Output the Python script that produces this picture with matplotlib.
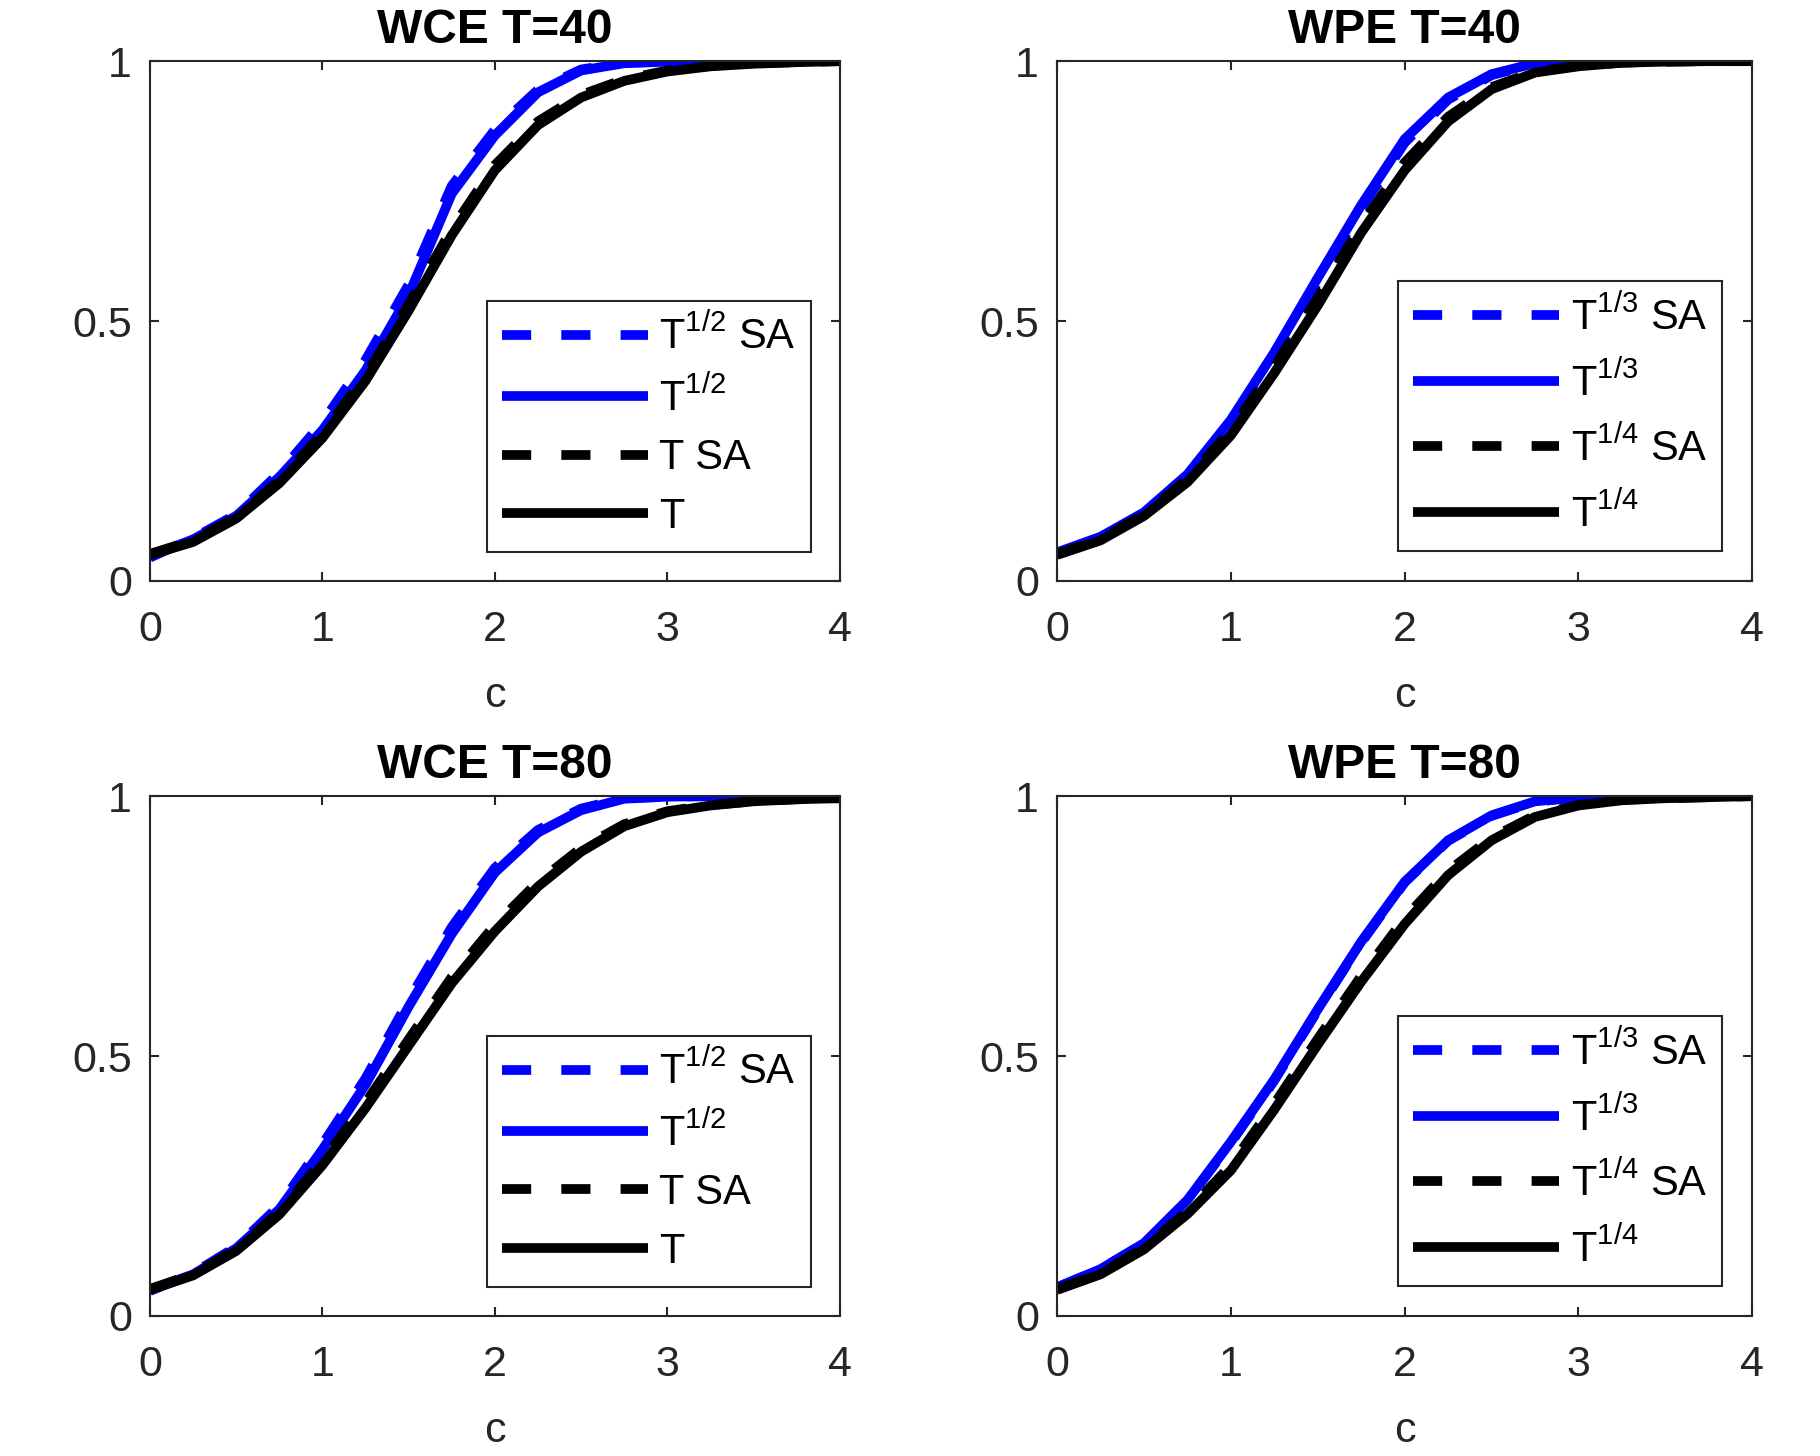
import numpy as np
import matplotlib
matplotlib.use('Agg')
import matplotlib.pyplot as plt

plt.rcParams['font.family'] = ['Liberation Sans', 'DejaVu Sans']
plt.rcParams['mathtext.fontset'] = 'custom'
plt.rcParams['mathtext.rm'] = 'Liberation Sans'
plt.rcParams['lines.solid_capstyle'] = 'butt'

# grid of c values
c = [0, 0.25, 0.5, 0.75, 1.0, 1.25, 1.5, 1.75, 2.0, 2.25, 2.5, 2.75, 3.0, 3.25, 3.5, 3.75, 4.0]

# WCE T=40
wce40_half_sa = [0.045, 0.082, 0.128, 0.208, 0.305, 0.425, 0.570, 0.760, 0.868, 0.945, 0.984, 0.997, 0.999, 1.0, 1.0, 1.0, 1.0]
wce40_half    = [0.048, 0.080, 0.125, 0.200, 0.290, 0.405, 0.550, 0.745, 0.857, 0.940, 0.982, 0.996, 0.999, 1.0, 1.0, 1.0, 1.0]
wce40_T_sa    = [0.052, 0.078, 0.123, 0.193, 0.283, 0.395, 0.532, 0.677, 0.800, 0.884, 0.935, 0.965, 0.982, 0.991, 0.996, 0.998, 1.0]
wce40_T       = [0.050, 0.075, 0.120, 0.188, 0.275, 0.385, 0.520, 0.665, 0.790, 0.877, 0.930, 0.962, 0.980, 0.990, 0.995, 0.998, 1.0]

# WPE T=40
wpe40_third_sa  = [0.053, 0.083, 0.130, 0.200, 0.303, 0.432, 0.575, 0.716, 0.843, 0.926, 0.973, 0.995, 0.999, 1.0, 1.0, 1.0, 1.0]
wpe40_third     = [0.055, 0.085, 0.132, 0.205, 0.310, 0.440, 0.583, 0.723, 0.850, 0.930, 0.975, 0.996, 0.999, 1.0, 1.0, 1.0, 1.0]
wpe40_fourth_sa = [0.052, 0.080, 0.128, 0.196, 0.290, 0.412, 0.545, 0.685, 0.805, 0.893, 0.950, 0.980, 0.991, 0.997, 0.999, 1.0, 1.0]
wpe40_fourth    = [0.050, 0.078, 0.125, 0.190, 0.280, 0.400, 0.530, 0.670, 0.790, 0.884, 0.946, 0.978, 0.990, 0.997, 0.999, 1.0, 1.0]

# WCE T=80
wce80_half_sa = [0.048, 0.082, 0.133, 0.212, 0.330, 0.457, 0.607, 0.748, 0.862, 0.935, 0.976, 0.996, 0.999, 1.0, 1.0, 1.0, 1.0]
wce80_half    = [0.050, 0.080, 0.130, 0.205, 0.320, 0.445, 0.595, 0.735, 0.853, 0.930, 0.973, 0.995, 0.999, 1.0, 1.0, 1.0, 1.0]
wce80_T_sa    = [0.052, 0.080, 0.128, 0.200, 0.298, 0.410, 0.532, 0.652, 0.752, 0.835, 0.900, 0.946, 0.971, 0.983, 0.990, 0.994, 0.996]
wce80_T       = [0.050, 0.078, 0.125, 0.195, 0.290, 0.400, 0.520, 0.640, 0.740, 0.826, 0.893, 0.942, 0.969, 0.982, 0.990, 0.994, 0.996]

# WPE T=80
wpe80_third_sa  = [0.055, 0.090, 0.139, 0.222, 0.333, 0.453, 0.588, 0.718, 0.834, 0.914, 0.962, 0.989, 0.998, 1.0, 1.0, 1.0, 1.0]
wpe80_third     = [0.055, 0.090, 0.140, 0.223, 0.335, 0.455, 0.590, 0.720, 0.835, 0.915, 0.963, 0.990, 0.998, 1.0, 1.0, 1.0, 1.0]
wpe80_fourth_sa = [0.052, 0.082, 0.131, 0.201, 0.290, 0.408, 0.533, 0.654, 0.765, 0.856, 0.920, 0.963, 0.983, 0.993, 0.996, 0.998, 1.0]
wpe80_fourth    = [0.050, 0.080, 0.128, 0.196, 0.280, 0.397, 0.522, 0.643, 0.754, 0.848, 0.915, 0.960, 0.982, 0.992, 0.996, 0.998, 1.0]

wce_labels = [r'T$^{\mathregular{1/2}}$ SA', r'T$^{\mathregular{1/2}}$', 'T SA', 'T']
wpe_labels = [r'T$^{\mathregular{1/3}}$ SA', r'T$^{\mathregular{1/3}}$',
              r'T$^{\mathregular{1/4}}$ SA', r'T$^{\mathregular{1/4}}$']

panels = [
    ('WCE T=40', [wce40_half_sa, wce40_half, wce40_T_sa, wce40_T], wce_labels),
    ('WPE T=40', [wpe40_third_sa, wpe40_third, wpe40_fourth_sa, wpe40_fourth], wpe_labels),
    ('WCE T=80', [wce80_half_sa, wce80_half, wce80_T_sa, wce80_T], wce_labels),
    ('WPE T=80', [wpe80_third_sa, wpe80_third, wpe80_fourth_sa, wpe80_fourth], wpe_labels),
]

colors = ['#0000ff', '#0000ff', 'black', 'black']
styles = ['--', '-', '--', '-']

positions = [
    [0.0824, 0.601, 0.379, 0.357],
    [0.5808, 0.601, 0.382, 0.357],
    [0.0824, 0.0962, 0.379, 0.357],
    [0.5808, 0.0962, 0.382, 0.357],
]
leg_spacing = [0.45, 0.56, 0.45, 0.56]
leg_anchor = [(0.958, 0.056), (0.957, 0.058), (0.958, 0.056), (0.957, 0.058)]

fig = plt.figure(figsize=(18.2, 14.56), dpi=100)
axcol = '#262626'

for (title, series, labels), pos, lsp, anc in zip(panels, positions, leg_spacing, leg_anchor):
    ax = fig.add_axes(pos)
    for y, col, ls, lab in zip(series, colors, styles, labels):
        line, = ax.plot(c, y, color=col, linestyle=ls, linewidth=7, label=lab)
        if ls == '--':
            line.set_dashes((3.0, 3.1))
    ax.set_xlim(0, 4)
    ax.set_ylim(0, 1)
    ax.set_xticks([0, 1, 2, 3, 4])
    ax.set_yticks([0, 0.5, 1])
    ax.set_yticklabels(['0', '0.5', '1'])
    ax.tick_params(direction='in', length=6.5, width=1.5, top=True, right=True,
                   labelsize=31, colors=axcol, pad=13)
    ax.tick_params(axis='x', pad=21)
    for sp in ax.spines.values():
        sp.set_color(axcol)
        sp.set_linewidth(1.5)
    ax.set_title(title, fontsize=34.5, fontweight='bold', pad=13)
    ax.set_xlabel('c', fontsize=31, color=axcol, labelpad=19)
    leg = ax.legend(loc='lower right', bbox_to_anchor=anc, borderaxespad=0,
                    fontsize=30, handlelength=3.5, handletextpad=0.28, labelspacing=lsp,
                    borderpad=0.36, fancybox=False, framealpha=1, edgecolor=axcol)
    leg.get_frame().set_linewidth(1.5)

fig.savefig('out.png', dpi=100)
